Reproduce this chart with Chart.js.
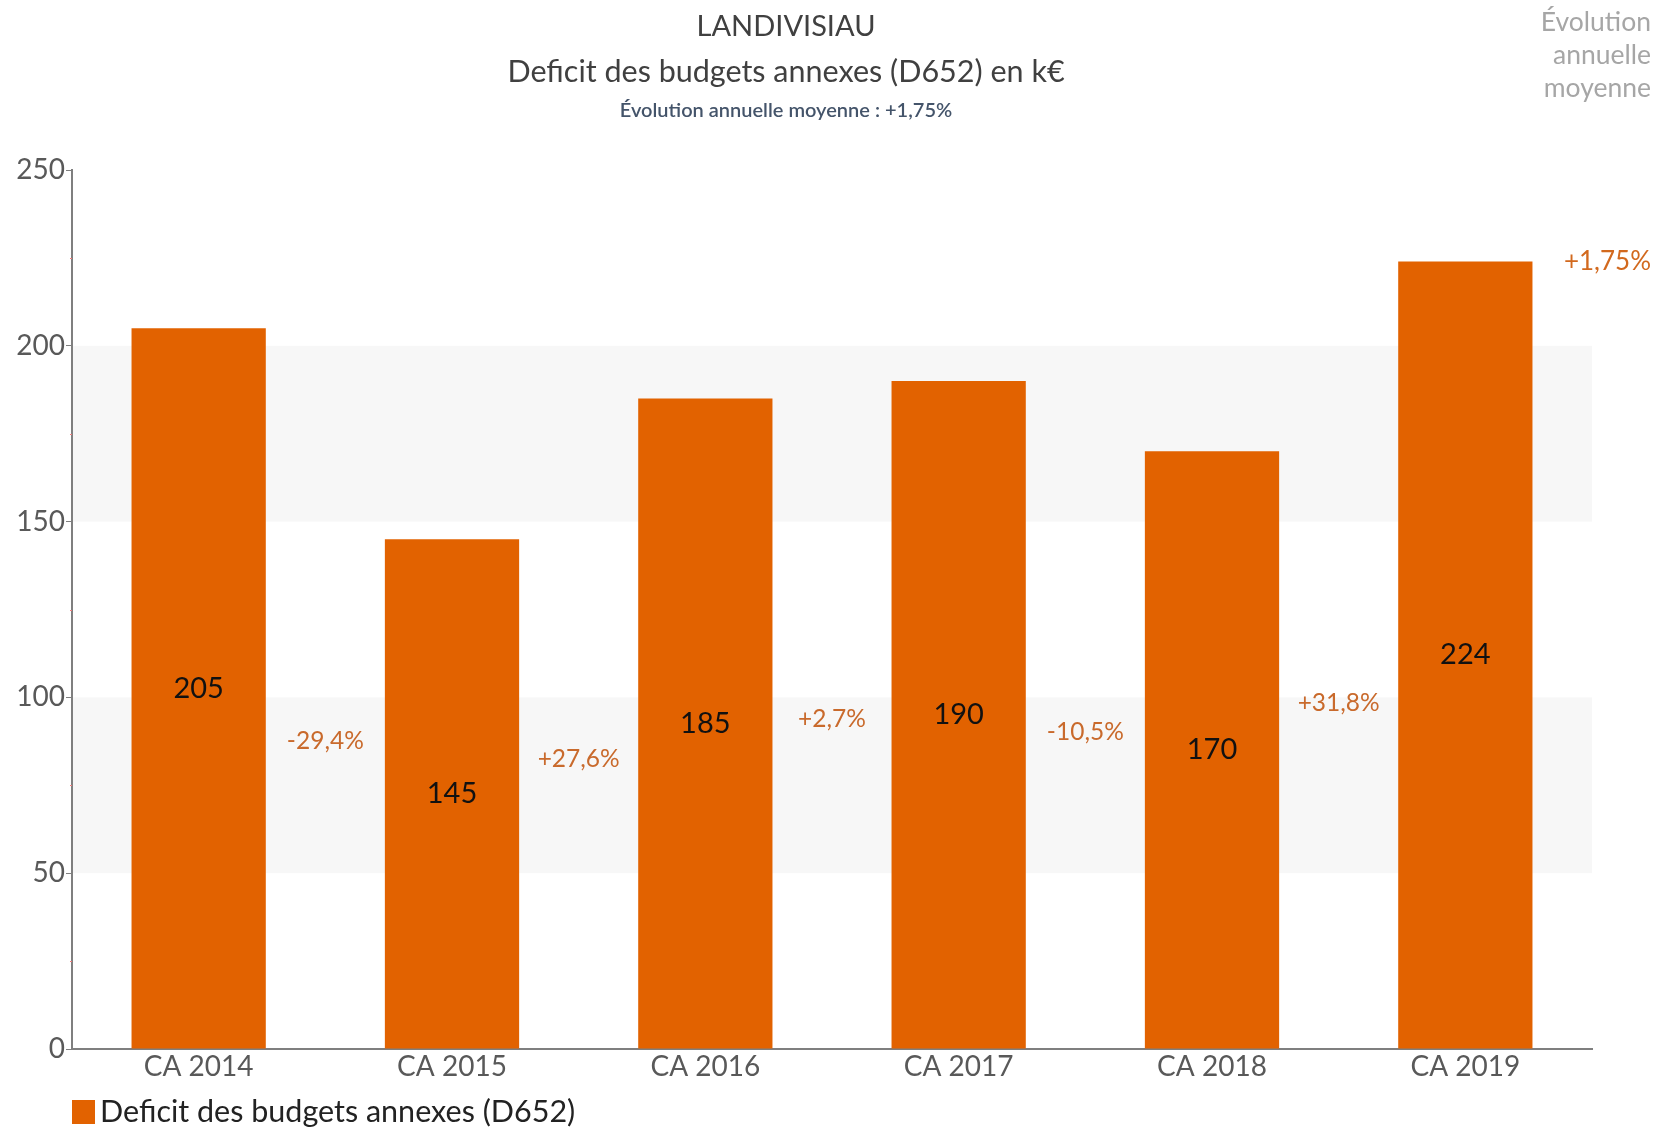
<!DOCTYPE html>
<html>
<head>
<meta charset="utf-8">
<script src="https://cdn.jsdelivr.net/npm/chart.js@4/dist/chart.umd.min.js"></script>
<style>
  html, body { margin: 0; padding: 0; background: #fff; }
  #wrap { width: 1659px; height: 1129px; }
</style>
</head>
<body>
<div id="wrap"><canvas id="deficitChart" width="1659" height="1129"></canvas></div>
<script>
const categories = ['CA 2014', 'CA 2015', 'CA 2016', 'CA 2017', 'CA 2018', 'CA 2019'];
const deficitValues = [205, 145, 185, 190, 170, 224];
const evolutionLabels = ['-29,4%', '+27,6%', '+2,7%', '-10,5%', '+31,8%'];
const averageEvolution = '+1,75%';
const shadedBands = [[50, 100], [150, 200]];
const minorTicks = [25, 75, 125, 175, 225];

const FONT = 'Lato, "Open Sans", sans-serif';
const ORANGE = '#e26200';

const decorations = {
    id: 'decorations',
    beforeDatasetsDraw(chart) {
        const ctx = chart.ctx;
        const area = chart.chartArea;
        const y = chart.scales.y;
        ctx.save();
        ctx.fillStyle = '#f7f7f7';
        shadedBands.forEach(function (b) {
            const top = y.getPixelForValue(b[1]);
            const bottom = y.getPixelForValue(b[0]);
            ctx.fillRect(area.left + 1, top, area.right - area.left - 1, bottom - top);
        });
        ctx.strokeStyle = '#f08080';
        ctx.lineWidth = 1;
        minorTicks.forEach(function (v) {
            const py = Math.round(y.getPixelForValue(v)) + 0.5;
            ctx.beginPath();
            ctx.moveTo(area.left - 2, py);
            ctx.lineTo(area.left, py);
            ctx.stroke();
        });
        ctx.restore();
    },
    afterDatasetsDraw(chart) {
        const ctx = chart.ctx;
        const meta = chart.getDatasetMeta(0);
        const y = chart.scales.y;
        ctx.save();
        ctx.textAlign = 'center';
        ctx.textBaseline = 'middle';

        // values inside the bars
        ctx.fillStyle = '#111';
        ctx.font = '29px ' + FONT;
        meta.data.forEach(function (bar, i) {
            ctx.fillText(String(deficitValues[i]), bar.x, (bar.y + bar.base) / 2);
        });

        // evolution between bars
        ctx.fillStyle = '#c96a2c';
        ctx.font = '24.5px ' + FONT;
        evolutionLabels.forEach(function (txt, i) {
            const a = meta.data[i], b = meta.data[i + 1];
            const avg = (deficitValues[i] + deficitValues[i + 1]) / 4;
            ctx.fillText(txt, (a.x + b.x) / 2, y.getPixelForValue(avg));
        });

        // titles
        ctx.fillStyle = '#404040';
        ctx.font = '29px ' + FONT;
        ctx.fillText('LANDIVISIAU', 786, 27);
        ctx.font = '30.5px ' + FONT;
        ctx.fillText('Deficit des budgets annexes (D652) en k\u20ac', 786, 72);
        ctx.fillStyle = '#44546a';
        ctx.font = '600 20px ' + FONT;
        ctx.fillText('\u00c9volution annuelle moyenne : ' + averageEvolution, 786, 111);

        // right side note
        ctx.textAlign = 'right';
        ctx.fillStyle = '#a6a6a6';
        ctx.font = '26.5px ' + FONT;
        ['\u00c9volution', 'annuelle', 'moyenne'].forEach(function (line, i) {
            ctx.fillText(line, 1651, 22 + i * 33);
        });
        ctx.fillStyle = '#d2691e';
        ctx.font = '26px ' + FONT;
        ctx.fillText(averageEvolution, 1651, y.getPixelForValue(deficitValues[deficitValues.length - 1]));

        // legend
        const area = chart.chartArea;
        ctx.fillStyle = ORANGE;
        ctx.fillRect(area.left, 1100, 23, 24);
        ctx.textAlign = 'left';
        ctx.fillStyle = '#222';
        ctx.font = '30.5px ' + FONT;
        ctx.fillText('Deficit des budgets annexes (D652)', area.left + 28, 1112);
        ctx.restore();
    }
};

const ctx = document.getElementById('deficitChart').getContext('2d');
new Chart(ctx, {
    type: 'bar',
    data: {
        labels: categories,
        datasets: [{
            label: 'Deficit des budgets annexes (D652)',
            data: deficitValues,
            backgroundColor: ORANGE,
            borderWidth: 0,
            categoryPercentage: 1,
            barPercentage: 0.53
        }]
    },
    options: {
        responsive: false,
        animation: false,
        layout: { padding: { top: 170, right: 67, left: 0, bottom: 0 } },
        scales: {
            x: {
                grid: { display: false, drawTicks: false },
                border: { display: true, color: '#7f7f7f', width: 2 },
                ticks: { color: '#595959', font: { family: FONT, size: 28 }, padding: 1 },
                afterFit: function (scale) { scale.height = 80; }
            },
            y: {
                min: 0,
                max: 250,
                ticks: { stepSize: 50, color: '#595959', font: { family: FONT, size: 28 }, padding: 1 },
                grid: { drawOnChartArea: false, tickLength: 6, color: '#7f7f7f' },
                border: { display: true, color: '#7f7f7f', width: 2 },
                afterFit: function (scale) { scale.width = 72; }
            }
        },
        plugins: {
            legend: { display: false },
            tooltip: { enabled: false }
        }
    },
    plugins: [decorations]
});
</script>
</body>
</html>
